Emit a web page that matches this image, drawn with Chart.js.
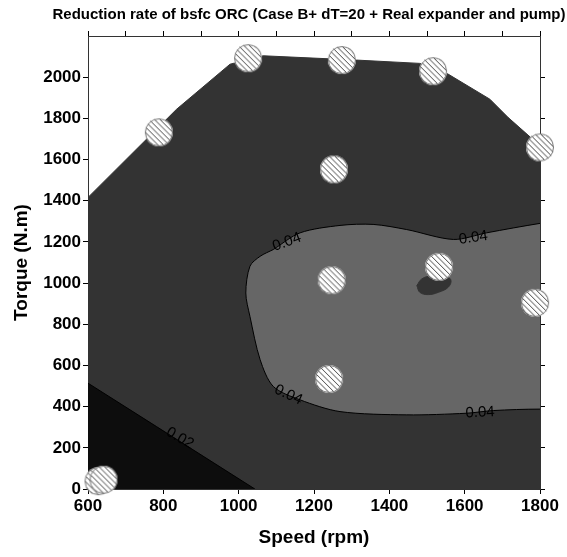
<!DOCTYPE html>
<html lang="en">
<head>
<meta charset="UTF-8">
<title>Reduction rate of bsfc ORC</title>
<script src="https://cdn.jsdelivr.net/npm/chart.js"></script>
<style>
  html, body { margin: 0; padding: 0; background: #fff; }
</style>
</head>
<body>
<canvas id="bsfcChart" width="567" height="557"></canvas>
<script>
// measured operating points (rpm, N.m)
const pointSpeed  = [628, 641, 788, 1025, 1274, 1516, 1800, 1253, 1247, 1532, 1787, 1240];
const pointTorque = [38, 45, 1732, 2092, 2083, 2029, 1659, 1552, 1014, 1079, 904, 534];

// outer edge of the mapped area (white above it)
const hullSpeed  = [600, 835, 977, 1065, 1313, 1481, 1556, 1667, 1715, 1781, 1800];
const hullTorque = [1416, 1844, 2063, 2104, 2083, 2067, 2015, 1893, 1805, 1698, 1674];

// 0.02 contour (below it darkest)
const c002Speed  = [600, 782, 1043];
const c002Torque = [514, 303, 0];

// 0.04 contour, closed loop
const c004Speed  = [1092, 1163, 1269, 1357, 1446, 1570, 1658, 1800, 1850, 1850, 1800, 1676, 1605, 1446, 1269, 1163, 1092, 1057, 1030, 1019, 1030, 1057, 1092];
const c004Torque = [1163, 1244, 1280, 1285, 1260, 1212, 1244, 1290, 1300, 380, 388, 381, 368, 360, 376, 433, 498, 628, 838, 952, 1082, 1130, 1163];

// small island under 0.04 near 1500 rpm
const islandSpeed  = [1473, 1486, 1512, 1543, 1563, 1557, 1530, 1503, 1481, 1473];
const islandTorque = [988, 1020, 1036, 1036, 1017, 981, 955, 944, 955, 988];

// contour level labels
const labelText   = ['0.04', '0.04', '0.04', '0.04', '0.02'];
const labelSpeed  = [1128, 1623, 1132, 1641, 844];
const labelTorque = [1199, 1220, 457, 371, 247];
const labelAngle  = [-20, -8, 25, -3, 30];

const xTicks = [600, 800, 1000, 1200, 1400, 1600, 1800];
const titleText = 'Reduction rate of bsfc ORC (Case B+ dT=20 + Real expander and pump)';

const toXY = (xs, ys) => xs.map((v, i) => ({x: v, y: ys[i]}));

function makeHatchedDot(r) {
    const size = 2 * r + 2;
    const c = document.createElement('canvas');
    c.width = size; c.height = size;
    const g = c.getContext('2d');
    const m = size / 2;
    g.beginPath(); g.arc(m, m, r, 0, Math.PI * 2);
    g.fillStyle = '#fff'; g.fill();
    g.save(); g.clip();
    g.strokeStyle = '#444'; g.lineWidth = 1;
    for (let k = -size; k < 2 * size; k += 5.5) {
        g.beginPath(); g.moveTo(k, 0); g.lineTo(k + size, size); g.stroke();
    }
    g.restore();
    g.beginPath(); g.arc(m, m, r - 0.5, 0, Math.PI * 2);
    g.strokeStyle = '#777'; g.lineWidth = 1; g.stroke();
    return c;
}

const contourLabels = {
    id: 'contourLabels',
    afterDatasetsDraw(chart) {
        const {ctx, scales: {x, y}} = chart;
        ctx.save();
        ctx.font = '15px "Liberation Sans", Arial, sans-serif';
        ctx.fillStyle = '#000';
        ctx.textAlign = 'center';
        ctx.textBaseline = 'middle';
        labelText.forEach((t, i) => {
            ctx.save();
            ctx.translate(x.getPixelForValue(labelSpeed[i]), y.getPixelForValue(labelTorque[i]));
            ctx.rotate(labelAngle[i] * Math.PI / 180);
            ctx.fillText(t, 0, 0);
            ctx.restore();
        });
        ctx.restore();
    }
};

const plotTitle = {
    id: 'plotTitle',
    afterDraw(chart) {
        const {ctx, chartArea} = chart;
        ctx.save();
        ctx.font = 'bold 15px "Liberation Sans", Arial, sans-serif';
        ctx.fillStyle = '#000';
        ctx.textAlign = 'center';
        ctx.textBaseline = 'middle';
        ctx.fillText(titleText, (chartArea.left + chartArea.right) / 2 - 5, 15);
        ctx.restore();
    }
};

Chart.defaults.font.family = '"Liberation Sans", Arial, sans-serif';

const frameGrid = { drawOnChartArea: false, drawTicks: true, tickLength: 5, color: '#000', lineWidth: 1 };
const frameBorder = { display: true, color: '#333', width: 1 };
const tickFont = { size: 17, weight: 'bold' };
const axisFont = { size: 19, weight: 'bold' };
const plainNumber = v => String(v);

new Chart(document.getElementById('bsfcChart'), {
    type: 'line',
    data: {
        datasets: [
            {
                label: 'points',
                data: toXY(pointSpeed, pointTorque),
                showLine: false,
                pointStyle: makeHatchedDot(14),
                pointRadius: 14,
                clip: false,
                order: 0
            },
            {
                label: 'island',
                data: toXY(islandSpeed, islandTorque),
                borderColor: '#333333',
                borderWidth: 1,
                backgroundColor: '#333333',
                fill: 'shape',
                tension: 0.4,
                pointRadius: 0,
                order: 1
            },
            {
                label: '0.04',
                data: toXY(c004Speed, c004Torque),
                borderColor: '#000',
                borderWidth: 1,
                backgroundColor: '#666666',
                fill: 'shape',
                tension: 0.3,
                pointRadius: 0,
                order: 2
            },
            {
                label: '0.02',
                data: toXY(c002Speed, c002Torque),
                borderColor: '#000',
                borderWidth: 1,
                backgroundColor: '#0d0d0d',
                fill: 'origin',
                tension: 0,
                pointRadius: 0,
                order: 3
            },
            {
                label: 'hull',
                data: toXY(hullSpeed, hullTorque),
                borderColor: '#333333',
                borderWidth: 1,
                backgroundColor: '#333333',
                fill: 'origin',
                tension: 0,
                pointRadius: 0,
                order: 4
            }
        ]
    },
    options: {
        responsive: false,
        animation: false,
        events: [],
        layout: { padding: 0 },
        plugins: {
            legend: { display: false },
            tooltip: { enabled: false },
            title: { display: false }
        },
        scales: {
            x: {
                type: 'linear',
                position: 'bottom',
                min: 600, max: 1800,
                afterFit: s => { s.height = 68; },
                afterBuildTicks: s => { s.ticks = xTicks.map(v => ({value: v})); },
                grid: frameGrid,
                border: frameBorder,
                ticks: { color: '#000', font: tickFont, padding: 2, maxRotation: 0, autoSkip: false, callback: plainNumber },
                title: { display: true, text: 'Speed (rpm)', color: '#000', font: axisFont, padding: {top: 0, bottom: 8} }
            },
            x2: {
                type: 'linear',
                position: 'top',
                min: 600, max: 1800,
                afterFit: s => { s.height = 36; },
                grid: frameGrid,
                border: frameBorder,
                ticks: { display: false, stepSize: 100 }
            },
            y: {
                type: 'linear',
                position: 'left',
                min: 0, max: 2200,
                afterFit: s => { s.width = 88; },
                afterBuildTicks: s => { s.ticks = s.ticks.filter(t => t.value <= 2000); },
                grid: frameGrid,
                border: frameBorder,
                ticks: { stepSize: 200, color: '#000', font: tickFont, padding: 2, callback: plainNumber },
                title: { display: true, text: 'Torque (N.m)', color: '#000', font: axisFont, padding: {top: 10, bottom: 0} }
            },
            y2: {
                type: 'linear',
                position: 'right',
                min: 0, max: 2200,
                afterFit: s => { s.width = 27; },
                afterBuildTicks: s => { s.ticks = s.ticks.filter(t => t.value <= 2000); },
                grid: frameGrid,
                border: frameBorder,
                ticks: { display: false, stepSize: 200 }
            }
        }
    },
    plugins: [contourLabels, plotTitle]
});
</script>
</body>
</html>
